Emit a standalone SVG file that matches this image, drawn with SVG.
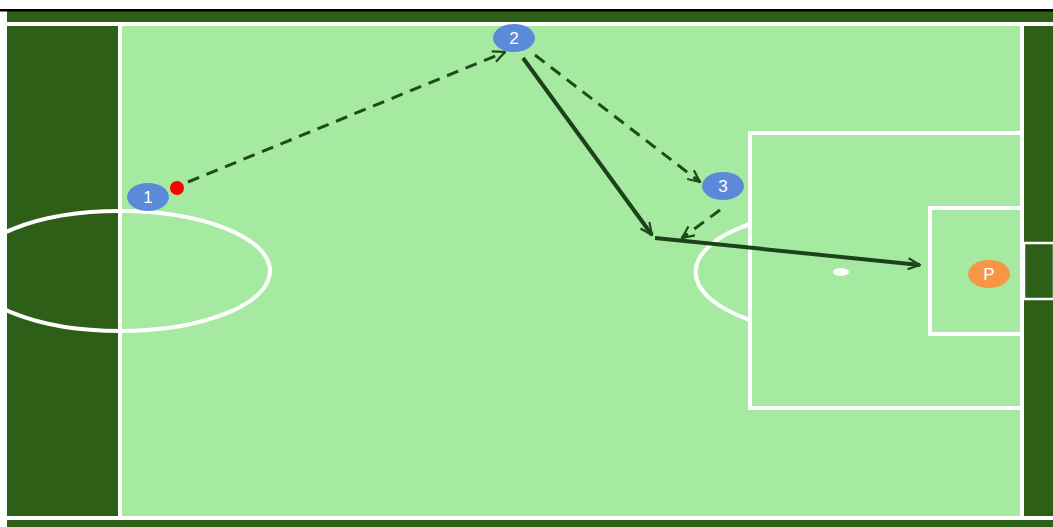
<svg xmlns="http://www.w3.org/2000/svg" width="1053" height="527" viewBox="0 0 1053 527">
<defs>
<style>
.line{fill:none;stroke:#ffffff;stroke-width:4}
.pass{fill:none;stroke:#1f4a1c;stroke-width:3;stroke-dasharray:12 8}
.run{fill:none;stroke:#1c421a;stroke-width:4}
.player{fill:#5b8bd8}
.lbl{font-family:"Liberation Sans",Arial,sans-serif;font-size:17px;fill:#ffffff;text-anchor:middle;dominant-baseline:central}
</style>
<marker id="ah" viewBox="0 0 14 14" refX="13" refY="7" markerWidth="14" markerHeight="14" markerUnits="userSpaceOnUse" orient="auto">
<path d="M1,1.5 L13,7 L1,12.5" fill="none" stroke="#1f4a1c" stroke-width="2.2"/>
</marker>
<clipPath id="pitch"><rect x="7" y="11" width="1046" height="516"/></clipPath>
</defs>
<rect x="0" y="0" width="1053" height="527" fill="#ffffff"/>
<rect x="7" y="11" width="1046" height="516" fill="#2d5f16"/>
<rect x="0" y="9" width="1053" height="2.5" fill="#000000"/>
<rect x="120" y="25" width="902" height="493" fill="#a5eaa0"/>
<g id="pitch-lines" clip-path="url(#pitch)">
<line class="line" x1="7" y1="24" x2="1053" y2="24"/>
<line class="line" x1="7" y1="518" x2="1053" y2="518"/>
<line class="line" x1="120" y1="24" x2="120" y2="518"/>
<line class="line" x1="1022" y1="24" x2="1022" y2="518" stroke-width="5"/>
<ellipse class="line" cx="120" cy="271" rx="150" ry="60"/>
<rect class="line" x="750" y="133" width="272" height="275"/>
<rect class="line" x="930" y="208" width="92" height="126"/>
<rect x="1024" y="243" width="30" height="56" fill="#2d5f16" stroke="#ffffff" stroke-width="2.5"/>
<path class="line" d="M750,224 A148,62 0 0 0 750,320"/>
<ellipse cx="841" cy="272" rx="8" ry="4" fill="#ffffff"/>
</g>
<g id="connectors">
<line class="pass" x1="188" y1="182" x2="505" y2="52" marker-end="url(#ah)"/>
<line class="pass" x1="535" y1="55" x2="700" y2="182" marker-end="url(#ah)"/>
<line class="run" x1="523" y1="58" x2="652" y2="235" marker-end="url(#ah)"/>
<line class="pass" x1="720" y1="210" x2="682" y2="238" marker-end="url(#ah)"/>
<line class="run" x1="655" y1="238" x2="920" y2="265" marker-end="url(#ah)"/>
</g>
<g id="ball"><circle cx="177" cy="188" r="7" fill="#ff0000"/></g>
<g id="player-1"><ellipse class="player" cx="148" cy="197" rx="21" ry="14"/><text class="lbl" x="148" y="197">1</text></g>
<g id="player-2"><ellipse class="player" cx="514" cy="38" rx="21" ry="14"/><text class="lbl" x="514" y="38">2</text></g>
<g id="player-3"><ellipse class="player" cx="723" cy="186" rx="21" ry="14"/><text class="lbl" x="723" y="186">3</text></g>
<g id="player-p"><ellipse cx="989" cy="274" rx="21" ry="14" fill="#f79646"/><text class="lbl" x="989" y="274">P</text></g>
</svg>
